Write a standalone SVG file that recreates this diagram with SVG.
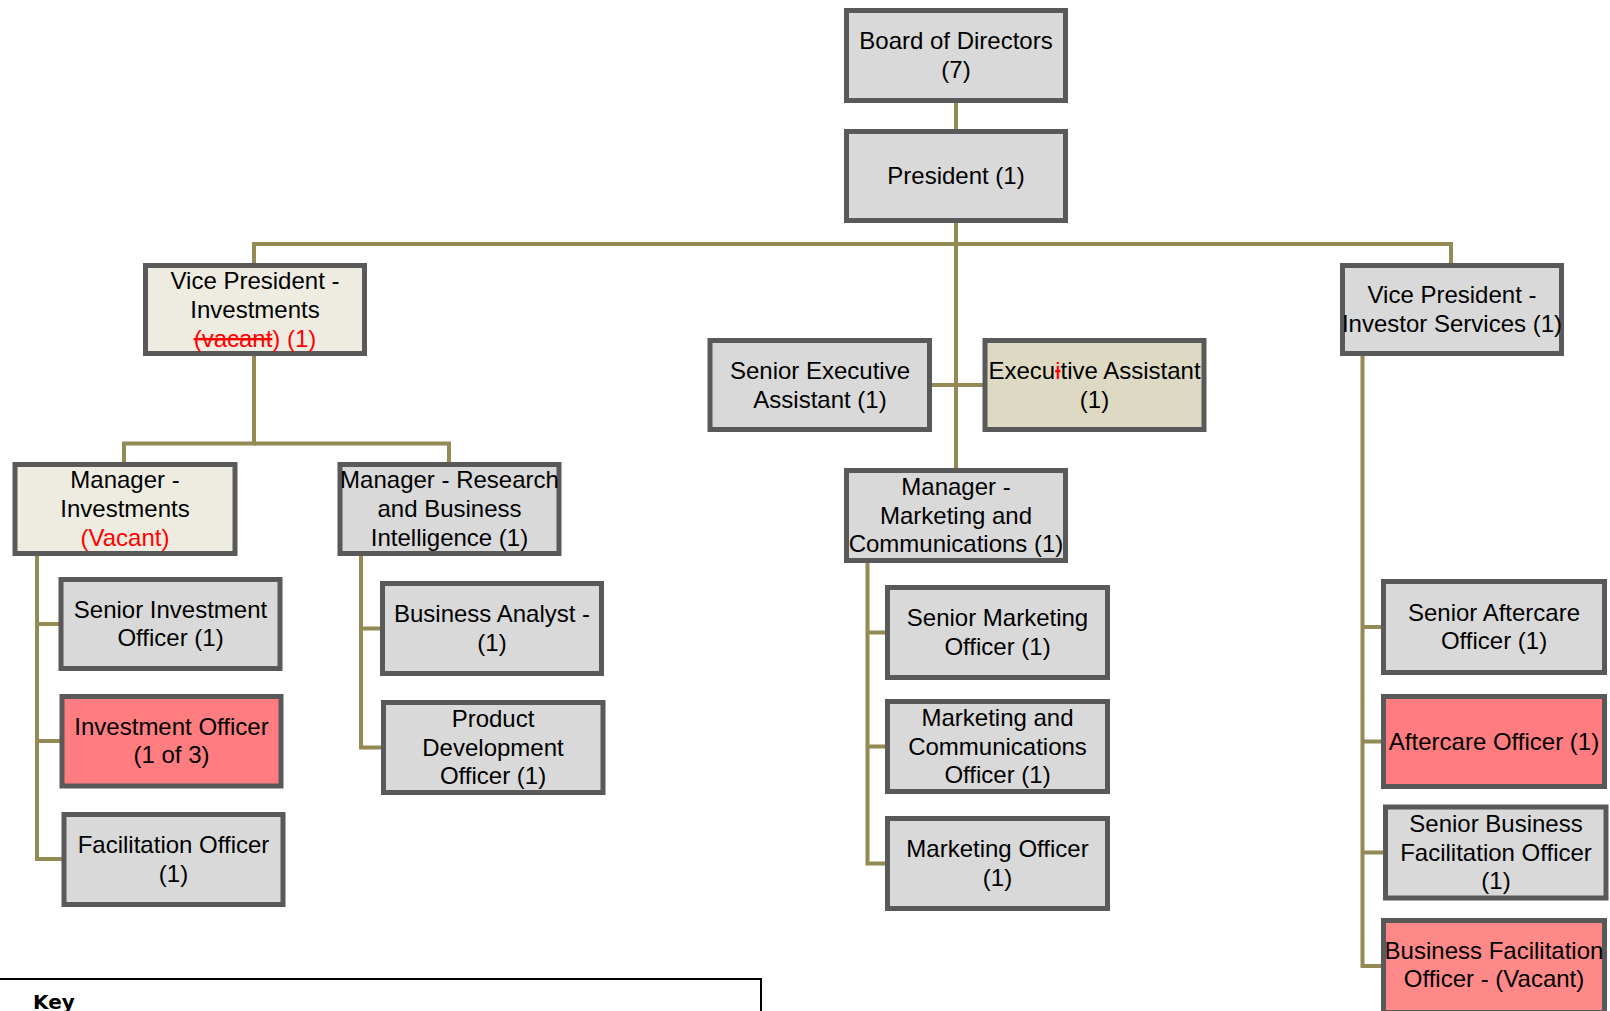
<svg xmlns="http://www.w3.org/2000/svg" width="1610" height="1011" viewBox="0 0 1610 1011">
<style>
.b{stroke:#595959;stroke-width:5;fill:#d9d9d9}
.cr{fill:#eeece1}
.tn{fill:#ddd9c3}
.rd{fill:#ff7c80}
.rd2{fill:#ff8989}
text{font-family:"Liberation Sans",Arial,sans-serif;font-size:24px;fill:#000;text-anchor:middle}
.red{fill:#ff0000}
.c{stroke:#948a54;stroke-width:4;fill:none}
</style>
<rect width="1610" height="1011" fill="#fff"/>
<g id="connectors">
<path class="c" d="M956 103V129"/>
<path class="c" d="M956 223V468"/>
<path class="c" d="M254 263V244H1451V263"/>
<path class="c" d="M932 385H983"/>
<path class="c" d="M254 356V443.5H124V462"/>
<path class="c" d="M254 443.5H449V462"/>
<path class="c" d="M37 556V859H64"/>
<path class="c" d="M37 624H61M37 741H62"/>
<path class="c" d="M361 556V747.5H383"/>
<path class="c" d="M361 628.5H382"/>
<path class="c" d="M867.5 563V863.5H887"/>
<path class="c" d="M867.5 632.5H887M867.5 746.5H887"/>
<path class="c" d="M1362.5 356V966H1383"/>
<path class="c" d="M1362.5 627H1383M1362.5 741.5H1383M1362.5 852.5H1385"/>
</g>
<g id="board"><rect class="b" x="846.5" y="10.5" width="219" height="90"/><text x="956" y="49">Board of Directors</text><text x="956" y="78">(7)</text></g>
<g id="president"><rect class="b" x="846.5" y="131.5" width="219" height="89"/><text x="956" y="184">President (1)</text></g>
<g id="vp-investments"><rect class="b cr" x="145.5" y="265.5" width="219" height="88"/><text x="255" y="289">Vice President -</text><text x="255" y="318">Investments</text><text x="255" y="346.5" class="red"><tspan class="red" text-decoration="line-through">(vacant</tspan><tspan class="red">) (1)</tspan></text></g>
<g id="vp-investor-services"><rect class="b" x="1342.5" y="265.5" width="219" height="88"/><text x="1452" y="303">Vice President -</text><text x="1452" y="332">Investor Services (1)</text></g>
<g id="senior-exec-assistant"><rect class="b" x="710" y="340.5" width="219.5" height="89"/><text x="820" y="378.5">Senior Executive</text><text x="820" y="407.5">Assistant (1)</text></g>
<g id="exec-assistant"><rect class="b tn" x="985" y="340.5" width="219" height="89"/><text x="1094.5" y="378.5">Execu<tspan class="red" text-decoration="line-through">i</tspan>tive Assistant</text><text x="1094.5" y="407.5">(1)</text></g>
<g id="manager-marketing"><rect class="b" x="846.5" y="470.5" width="219" height="90"/><text x="956" y="494.7">Manager -</text><text x="956" y="523.5">Marketing and</text><text x="956" y="552.3">Communications (1)</text></g>
<g id="manager-investments"><rect class="b cr" x="15" y="464.5" width="220" height="89"/><text x="125" y="488.2">Manager -</text><text x="125" y="517">Investments</text><text x="125" y="545.8" class="red">(Vacant)</text></g>
<g id="manager-research"><rect class="b" x="340" y="464.5" width="219" height="89"/><text x="449.5" y="488.2">Manager - Research</text><text x="449.5" y="517">and Business</text><text x="449.5" y="545.8">Intelligence (1)</text></g>
<g id="senior-investment-officer"><rect class="b" x="61" y="579.5" width="219" height="89"/><text x="170.5" y="617.6">Senior Investment</text><text x="170.5" y="646.4">Officer (1)</text></g>
<g id="investment-officer"><rect class="b rd" x="62" y="696.5" width="219" height="89.5"/><text x="171.5" y="734.6">Investment Officer</text><text x="171.5" y="763.4">(1 of 3)</text></g>
<g id="facilitation-officer"><rect class="b" x="64" y="814.5" width="219" height="90"/><text x="173.5" y="853.1">Facilitation Officer</text><text x="173.5" y="881.9">(1)</text></g>
<g id="business-analyst"><rect class="b" x="382.5" y="583.5" width="219" height="90"/><text x="492" y="622.1">Business Analyst -</text><text x="492" y="650.9">(1)</text></g>
<g id="product-development"><rect class="b" x="383.5" y="702.5" width="219.5" height="90"/><text x="493" y="726.7">Product</text><text x="493" y="755.5">Development</text><text x="493" y="784.3">Officer (1)</text></g>
<g id="senior-marketing-officer"><rect class="b" x="887.5" y="587.5" width="220" height="90"/><text x="997.5" y="626.1">Senior Marketing</text><text x="997.5" y="654.9">Officer (1)</text></g>
<g id="marketing-comms-officer"><rect class="b" x="887.5" y="701.5" width="220" height="90"/><text x="997.5" y="725.7">Marketing and</text><text x="997.5" y="754.5">Communications</text><text x="997.5" y="783.3">Officer (1)</text></g>
<g id="marketing-officer"><rect class="b" x="887.5" y="818.5" width="220" height="90"/><text x="997.5" y="857.1">Marketing Officer</text><text x="997.5" y="885.9">(1)</text></g>
<g id="senior-aftercare-officer"><rect class="b" x="1383.5" y="581.5" width="221" height="91"/><text x="1494" y="620.6">Senior Aftercare</text><text x="1494" y="649.4">Officer (1)</text></g>
<g id="aftercare-officer"><rect class="b rd" x="1383.5" y="696.5" width="221" height="90"/><text x="1494" y="749.5">Aftercare Officer (1)</text></g>
<g id="senior-business-facilitation-officer"><rect class="b" x="1385.5" y="807" width="220.5" height="91"/><text x="1496" y="831.7">Senior Business</text><text x="1496" y="860.5">Facilitation Officer</text><text x="1496" y="889.3">(1)</text></g>
<g id="business-facilitation-officer"><rect class="b rd2" x="1383.5" y="920.5" width="221" height="92"/><text x="1494" y="958.5">Business Facilitation</text><text x="1494" y="987.3">Officer - (Vacant)</text></g>
<g id="key"><rect x="-5" y="979" width="766" height="60" fill="#fff" stroke="#000" stroke-width="2"/><text x="33" y="1009" style="font-family:'DejaVu Sans',Verdana,sans-serif;font-size:20px;font-weight:bold;text-anchor:start">Key</text></g>
</svg>
